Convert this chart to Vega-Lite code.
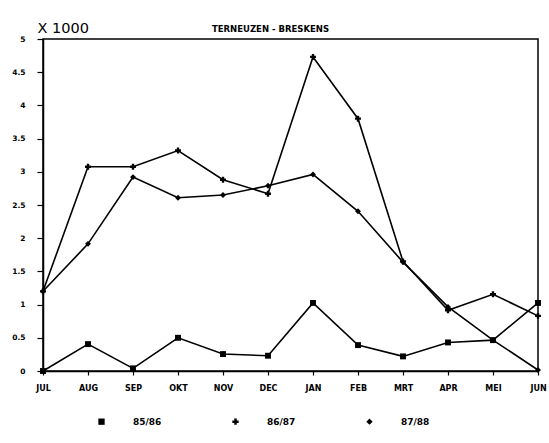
{
  "$schema": "https://vega.github.io/schema/vega-lite/v6.json",
  "width": 495,
  "height": 332,
  "autosize": {"type": "none"},
  "padding": {"left": 43, "top": 39, "right": 11, "bottom": 72},
  "background": "white",
  "title": {
    "text": "TERNEUZEN - BRESKENS",
    "font": "DejaVu Sans",
    "fontSize": 8.5,
    "fontWeight": "bold",
    "color": "black",
    "anchor": "middle",
    "dx": -20,
    "offset": -13
  },
  "config": {
    "view": {"stroke": "black", "strokeWidth": 1.5},
    "axis": {"grid": false, "domainColor": "black", "tickColor": "black", "labelColor": "black", "labelFont": "DejaVu Sans", "labelFontWeight": "bold", "domainWidth": 1.5, "tickWidth": 1.2}
  },
  "data": {
    "values": [
      {"month": "JUL", "season": "85/86", "value": 0.0},
      {"month": "AUG", "season": "85/86", "value": 0.405},
      {"month": "SEP", "season": "85/86", "value": 0.04},
      {"month": "OKT", "season": "85/86", "value": 0.5},
      {"month": "NOV", "season": "85/86", "value": 0.255},
      {"month": "DEC", "season": "85/86", "value": 0.23},
      {"month": "JAN", "season": "85/86", "value": 1.025},
      {"month": "FEB", "season": "85/86", "value": 0.39},
      {"month": "MRT", "season": "85/86", "value": 0.22},
      {"month": "APR", "season": "85/86", "value": 0.43},
      {"month": "MEI", "season": "85/86", "value": 0.465},
      {"month": "JUN", "season": "85/86", "value": 1.025},
      {"month": "JUL", "season": "86/87", "value": 1.2},
      {"month": "AUG", "season": "86/87", "value": 3.076},
      {"month": "SEP", "season": "86/87", "value": 3.076},
      {"month": "OKT", "season": "86/87", "value": 3.32},
      {"month": "NOV", "season": "86/87", "value": 2.88},
      {"month": "DEC", "season": "86/87", "value": 2.67},
      {"month": "JAN", "season": "86/87", "value": 4.73},
      {"month": "FEB", "season": "86/87", "value": 3.8},
      {"month": "MRT", "season": "86/87", "value": 1.65},
      {"month": "APR", "season": "86/87", "value": 0.915},
      {"month": "MEI", "season": "86/87", "value": 1.155},
      {"month": "JUN", "season": "86/87", "value": 0.83},
      {"month": "JUL", "season": "87/88", "value": 1.2},
      {"month": "AUG", "season": "87/88", "value": 1.915},
      {"month": "SEP", "season": "87/88", "value": 2.92},
      {"month": "OKT", "season": "87/88", "value": 2.61},
      {"month": "NOV", "season": "87/88", "value": 2.65},
      {"month": "DEC", "season": "87/88", "value": 2.79},
      {"month": "JAN", "season": "87/88", "value": 2.96},
      {"month": "FEB", "season": "87/88", "value": 2.405},
      {"month": "MRT", "season": "87/88", "value": 1.64},
      {"month": "APR", "season": "87/88", "value": 0.965},
      {"month": "MEI", "season": "87/88", "value": 0.465},
      {"month": "JUN", "season": "87/88", "value": 0.015}
    ]
  },
  "encoding": {
    "x": {
      "field": "month",
      "type": "ordinal",
      "sort": ["JUL", "AUG", "SEP", "OKT", "NOV", "DEC", "JAN", "FEB", "MRT", "APR", "MEI", "JUN"],
      "scale": {"type": "point", "padding": 0},
      "axis": {"title": null, "labelAngle": 0, "labelFontSize": 8, "tickSize": 4, "labelPadding": 9}
    },
    "y": {
      "field": "value",
      "type": "quantitative",
      "scale": {"domain": [0, 5], "nice": false},
      "axis": {
        "values": [0, 0.5, 1, 1.5, 2, 2.5, 3, 3.5, 4, 4.5, 5],
        "format": ".1~f",
        "labelFontSize": 7.5,
        "tickSize": 6,
        "labelPadding": 12,
        "title": "X 1000",
        "titleAngle": 0,
        "titleAlign": "left",
        "titleBaseline": "alphabetic",
        "titleX": -6,
        "titleY": -7,
        "titleFont": "DejaVu Sans",
        "titleFontSize": 14.5,
        "titleFontWeight": "normal",
        "titleColor": "black"
      }
    }
  },
  "layer": [
    {
      "mark": {"type": "line", "color": "black", "strokeWidth": 1.6},
      "encoding": {"detail": {"field": "season"}}
    },
    {
      "mark": {"type": "point", "filled": true, "color": "black", "opacity": 1, "size": 35},
      "encoding": {
        "shape": {
          "field": "season",
          "type": "nominal",
          "scale": {"domain": ["85/86", "86/87", "87/88"], "range": ["square", "cross", "diamond"]},
          "legend": {
            "title": null,
            "orient": "none",
            "legendX": 54,
            "legendY": 378,
            "direction": "horizontal",
            "columns": 3,
            "padding": 0,
            "symbolSize": 40,
            "symbolStrokeColor": "black",
            "labelFont": "DejaVu Sans",
            "labelFontWeight": "bold",
            "labelFontSize": 9,
            "labelColor": "black",
            "labelOffset": 27,
            "columnPadding": 67
          }
        }
      }
    }
  ]
}
